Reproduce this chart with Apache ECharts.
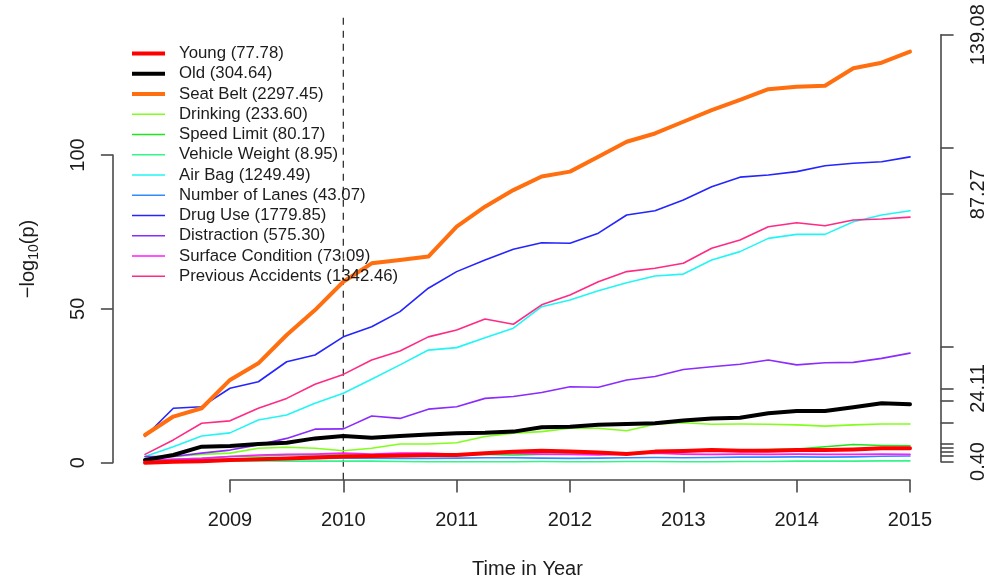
<!DOCTYPE html>
<html>
<head>
<meta charset="utf-8">
<script src="https://cdn.jsdelivr.net/npm/echarts@6/dist/echarts.min.js"></script>
<style>
  html, body { margin: 0; padding: 0; background: #ffffff; }
  #chart { width: 990px; height: 582px; }
</style>
</head>
<body>
<div id="chart"></div>
<script>
// Quarterly time points (years)
const times = [2008.25, 2008.5, 2008.75, 2009, 2009.25, 2009.5, 2009.75, 2010,
               2010.25, 2010.5, 2010.75, 2011, 2011.25, 2011.5, 2011.75, 2012,
               2012.25, 2012.5, 2012.75, 2013, 2013.25, 2013.5, 2013.75, 2014,
               2014.25, 2014.5, 2014.75, 2015];

// -log10(p) per factor
const young = [0.0, 0.3, 0.5, 0.9, 1.1, 1.4, 1.7, 2.0, 2.2, 2.3, 2.5, 2.5, 3.1, 3.6,
               3.9, 3.6, 3.3, 2.8, 3.6, 3.8, 4.1, 3.9, 3.9, 4.1, 4.1, 4.3, 4.7, 4.7];
const old = [0.9, 2.5, 5.2, 5.4, 6.1, 6.5, 7.9, 8.7, 8.1, 8.7, 9.2, 9.6, 9.7, 10.1,
             11.5, 11.7, 12.3, 12.6, 12.8, 13.7, 14.4, 14.6, 16.1, 16.8, 16.8, 18.0, 19.3, 19.0];
const seatBelt = [9.0, 15.0, 17.7, 26.9, 32.3, 41.5, 49.6, 58.8, 64.8, 65.9, 67.0, 76.7, 83.2, 88.6,
                  93.0, 94.6, 99.4, 104.3, 107.0, 110.8, 114.6, 117.9, 121.4, 122.2, 122.5, 128.2, 130.0, 133.6];
const drinking = [1.4, 2.0, 2.7, 3.1, 4.7, 5.0, 4.7, 3.9, 4.7, 6.1, 6.1, 6.5, 8.5, 9.6,
                  10.1, 11.2, 11.2, 10.4, 12.5, 13.0, 12.5, 12.6, 12.5, 12.3, 11.9, 12.3, 12.6, 12.6];
const speedLimit = [0.5, 1.1, 1.4, 2.0, 2.2, 2.5, 2.5, 2.5, 2.5, 2.7, 2.5, 2.7, 2.7, 2.5,
                    2.7, 2.8, 2.8, 3.1, 3.3, 3.6, 3.9, 4.1, 4.3, 4.4, 5.2, 5.9, 5.6, 5.5];
const vehicleWeight = [1.0, 0.8, 0.7, 0.6, 0.6, 0.5, 0.5, 0.5, 0.5, 0.4, 0.3, 0.3, 0.3, 0.3,
                       0.4, 0.3, 0.3, 0.4, 0.4, 0.3, 0.3, 0.4, 0.4, 0.5, 0.5, 0.5, 0.6, 0.6];
const airBag = [2.0, 5.2, 8.7, 9.7, 13.9, 15.5, 19.3, 22.6, 27.1, 31.8, 36.6, 37.4, 40.6, 43.7,
                50.7, 52.9, 55.9, 58.5, 60.7, 61.3, 65.9, 68.6, 72.9, 74.2, 74.2, 78.3, 80.5, 81.9];
const numberOfLanes = [0.7, 0.9, 1.1, 1.1, 1.2, 1.3, 1.4, 1.5, 1.5, 1.4, 1.4, 1.5, 1.6, 1.6,
                       1.5, 1.4, 1.5, 1.6, 1.7, 1.6, 1.7, 1.8, 1.8, 1.9, 1.8, 1.9, 2.1, 2.2];
const drugUse = [8.5, 17.7, 18.2, 24.2, 26.3, 32.8, 35.0, 40.9, 44.2, 49.1, 56.7, 62.1, 65.9, 69.4,
                 71.5, 71.3, 74.6, 80.5, 81.9, 85.4, 89.7, 92.8, 93.5, 94.6, 96.5, 97.3, 97.8, 99.4];
const distraction = [2.0, 2.0, 3.1, 4.1, 5.8, 7.9, 10.9, 11.0, 15.2, 14.4, 17.4, 18.2, 20.9, 21.5,
                     22.8, 24.7, 24.5, 26.9, 28.0, 30.3, 31.2, 32.0, 33.4, 31.8, 32.5, 32.6, 33.9, 35.6];
const surfaceCondition = [0.9, 1.1, 1.4, 2.0, 2.5, 2.7, 2.8, 3.1, 2.8, 3.1, 3.1, 2.7, 2.8, 3.1,
                          2.8, 2.7, 2.5, 2.8, 3.1, 2.8, 2.7, 2.8, 2.7, 2.8, 2.7, 2.7, 2.8, 2.7];
const previousAccidents = [2.7, 7.4, 12.8, 13.6, 17.7, 20.9, 25.5, 28.7, 33.4, 36.3, 40.9, 43.1, 46.7, 45.0,
                           51.3, 54.5, 58.8, 62.1, 63.2, 64.8, 69.7, 72.4, 76.7, 78.0, 77.0, 78.9, 79.2, 79.8];

// Legend labels (factor name with its total score)
const labels = {
  young: 'Young (77.78)',
  old: 'Old (304.64)',
  seatBelt: 'Seat Belt (2297.45)',
  drinking: 'Drinking (233.60)',
  speedLimit: 'Speed Limit (80.17)',
  vehicleWeight: 'Vehicle Weight (8.95)',
  airBag: 'Air Bag (1249.49)',
  numberOfLanes: 'Number of Lanes (43.07)',
  drugUse: 'Drug Use (1779.85)',
  distraction: 'Distraction (575.30)',
  surfaceCondition: 'Surface Condition (73.09)',
  previousAccidents: 'Previous Accidents (1342.46)'
};

// Axis ticks
const xTicks = [2009, 2010, 2011, 2012, 2013, 2014, 2015];
const yTicks = [0, 50, 100];
const rightTicks = [139.08, 102.2, 87.27, 37.7, 24.11, 20.05, 13.1, 6.08, 5.0, 3.57, 2.18, 0.40];
const rightLabels = [0.40, 24.11, 87.27, 139.08];
const markYear = 2010;

const FONT = '"Liberation Sans", Arial, Helvetica, sans-serif';
const AXIS_COLOR = '#4a4a4a';
const TEXT_COLOR = '#1c1c1c';

// Axis frame: the bottom/left axes span 2009–2015 and 0–100
const G = { left: 230, right: 80, top: 155, bottom: 119.3 };
const W = 990, H = 582;
const xPx = (W - G.left - G.right) / (xTicks[xTicks.length - 1] - xTicks[0]);
const yPx = (H - G.top - G.bottom) / (yTicks[yTicks.length - 1] - yTicks[0]);

// Right axis spans the range of its own tick values
const rMax = Math.max(...rightTicks), rMin = Math.min(...rightTicks);
const G2 = {
  left: G.left, right: G.right,
  top: G.top - (rMax - yTicks[yTicks.length - 1]) * yPx,
  bottom: G.bottom + (rMin - yTicks[0]) * yPx
};

// Plot region: data range padded by 4% on each side
const xSpan = times[times.length - 1] - times[0];
const xLo = times[0] - 0.04 * xSpan, xHi = times[times.length - 1] + 0.04 * xSpan;
const yPad = 0.04 * (rMax - 0);
const yLo = 0 - yPad, yHi = rMax + yPad;
const P = {
  left: G.left - (xTicks[0] - xLo) * xPx,
  right: G.right - (xHi - xTicks[xTicks.length - 1]) * xPx,
  top: G.top - (yHi - yTicks[yTicks.length - 1]) * yPx,
  bottom: G.bottom - (yTicks[0] - yLo) * yPx
};

const pairs = arr => arr.map((v, i) => [times[i], v]);

const styles = {
  young: { color: '#FF0000', width: 4 },
  old: { color: '#000000', width: 4 },
  seatBelt: { color: '#FF6F0F', width: 4 },
  drinking: { color: '#80FF1A', width: 1.6 },
  speedLimit: { color: '#1EE61E', width: 1.6 },
  vehicleWeight: { color: '#33F58A', width: 1.6 },
  airBag: { color: '#22F5F5', width: 1.6 },
  numberOfLanes: { color: '#2F8CFF', width: 1.6 },
  drugUse: { color: '#2424FF', width: 1.6 },
  distraction: { color: '#8A2BFF', width: 1.6 },
  surfaceCondition: { color: '#FF1AFF', width: 1.6 },
  previousAccidents: { color: '#FF2A85', width: 1.6 }
};

// Drawing order: thin lines first, heavy lines on top
const defs = [
  { key: 'drinking', data: drinking },
  { key: 'speedLimit', data: speedLimit },
  { key: 'vehicleWeight', data: vehicleWeight },
  { key: 'airBag', data: airBag },
  { key: 'numberOfLanes', data: numberOfLanes },
  { key: 'drugUse', data: drugUse },
  { key: 'distraction', data: distraction },
  { key: 'surfaceCondition', data: surfaceCondition },
  { key: 'previousAccidents', data: previousAccidents },
  { key: 'old', data: old },
  { key: 'seatBelt', data: seatBelt },
  { key: 'young', data: young }
];

const legendOrder = ['young', 'old', 'seatBelt', 'drinking', 'speedLimit', 'vehicleWeight',
  'airBag', 'numberOfLanes', 'drugUse', 'distraction', 'surfaceCondition', 'previousAccidents'];

const series = defs.map(d => {
  const s = styles[d.key];
  return {
    name: labels[d.key],
    type: 'line',
    xAxisIndex: 0, yAxisIndex: 0,
    data: pairs(d.data),
    symbol: 'none',
    showSymbol: false,
    clip: false,
    color: s.color,
    itemStyle: { color: s.color },
    lineStyle: { color: s.color, width: s.width, join: 'round', cap: 'round' },
    emphasis: { disabled: true },
    silent: true
  };
});

// Vertical dashed reference line at 2010 across the whole plot region
series.unshift({
  name: 'ref',
  type: 'line',
  xAxisIndex: 0, yAxisIndex: 0,
  data: [[markYear, yLo], [markYear, yHi]],
  symbol: 'none',
  clip: false,
  lineStyle: { color: '#333333', width: 1.3, type: [7, 6] },
  silent: true
});

const axisLineStyle = { lineStyle: { color: AXIS_COLOR, width: 1.6 } };
const tickStyle = { lineStyle: { color: AXIS_COLOR, width: 1.6 } };

const option = {
  animation: false,
  backgroundColor: '#ffffff',
  textStyle: { fontFamily: FONT },
  grid: [
    { left: P.left, right: P.right, top: P.top, bottom: P.bottom },
    { left: G.left, right: G.right, top: G.top, bottom: G.bottom },
    { left: G2.left, right: G2.right, top: G2.top, bottom: G2.bottom }
  ],
  xAxis: [
    { gridIndex: 0, type: 'value', min: xLo, max: xHi, show: false },
    {
      gridIndex: 1, type: 'value', min: xTicks[0], max: xTicks[xTicks.length - 1], interval: 1,
      offset: 17.3,
      axisLine: { show: true, onZero: false, ...axisLineStyle },
      axisTick: { show: true, length: 12.5, ...tickStyle },
      axisLabel: { fontSize: 20, color: TEXT_COLOR, margin: 30, fontFamily: FONT,
                   formatter: v => String(v) },
      splitLine: { show: false }
    },
    { gridIndex: 2, type: 'value', min: xTicks[0], max: xTicks[xTicks.length - 1], show: false }
  ],
  yAxis: [
    { gridIndex: 0, type: 'value', min: yLo, max: yHi, show: false },
    {
      gridIndex: 1, type: 'value', position: 'left', min: yTicks[0], max: yTicks[yTicks.length - 1],
      interval: 50, offset: G.left - P.left + 1.5,
      axisLine: { show: true, onZero: false, ...axisLineStyle },
      axisTick: { show: true, length: 12, ...tickStyle },
      axisLabel: { fontSize: 20, color: TEXT_COLOR, rotate: 90, margin: 24, fontFamily: FONT },
      splitLine: { show: false }
    },
    {
      gridIndex: 2, type: 'value', position: 'right', min: rMin, max: rMax, offset: G.right - P.right,
      axisLine: { show: true, onZero: false, ...axisLineStyle },
      axisTick: { show: true, length: 13, customValues: rightTicks, ...tickStyle },
      axisLabel: { fontSize: 20, color: TEXT_COLOR, rotate: 90, margin: 28, fontFamily: FONT,
                   customValues: rightLabels, formatter: v => Number(v).toFixed(2) },
      splitLine: { show: false }
    }
  ],
  legend: {
    orient: 'vertical',
    left: 130, top: 43.5, padding: 0,
    itemWidth: 33, itemHeight: 20, itemGap: 0.25,
    data: legendOrder.map(k => ({
      name: labels[k],
      itemStyle: { opacity: 0 },
      lineStyle: { color: styles[k].color, width: styles[k].width, cap: 'butt' }
    })),
    selectedMode: false,
    itemStyle: { opacity: 0 },
    textStyle: { fontSize: 16.8, color: TEXT_COLOR, fontFamily: FONT, lineHeight: 20,
                 padding: [0, 0, 0, 9] }
  },
  graphic: [
    {
      type: 'text', x: 28, y: 259, rotation: Math.PI / 2,
      style: {
        text: '{a|\u2212log}{s|10}{a|(p)}',
        align: 'center', verticalAlign: 'middle',
        rich: {
          a: { fontSize: 20, fontFamily: FONT, fill: TEXT_COLOR, lineHeight: 26, verticalAlign: 'middle' },
          s: { fontSize: 14, fontFamily: FONT, fill: TEXT_COLOR, lineHeight: 26, verticalAlign: 'bottom' }
        }
      }
    },
    {
      type: 'text', x: (P.left + W - P.right) / 2, y: 569,
      style: { text: 'Time in Year', fontSize: 20, fontFamily: FONT, fill: TEXT_COLOR,
               align: 'center', verticalAlign: 'middle' }
    }
  ],
  series: series
};

const chart = echarts.init(document.getElementById('chart'), null, { renderer: 'canvas' });
chart.setOption(option);
</script>
</body>
</html>
